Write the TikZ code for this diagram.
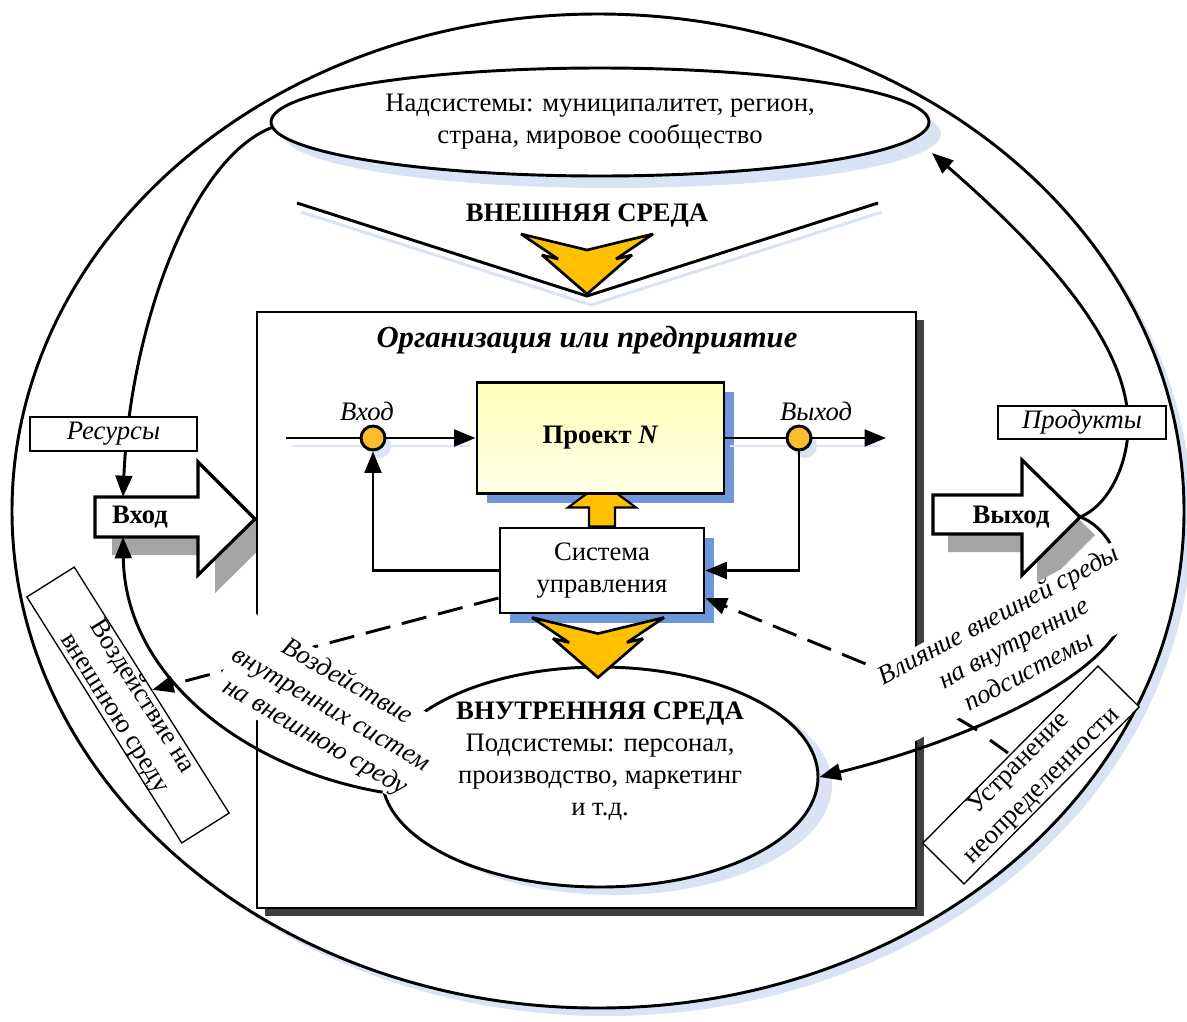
\documentclass[tikz,border=0pt]{standalone}
\usepackage{fontspec}
\setmainfont{Liberation Serif}
\usetikzlibrary{arrows.meta,calc,shapes.geometric}

\definecolor{paleblue}{HTML}{D9E3F3}
\definecolor{boxblue}{HTML}{6E96D9}
\definecolor{amber}{HTML}{FFC000}
\definecolor{dotamber}{HTML}{FABD2E}
\definecolor{darkgrey}{HTML}{3F3F3F}
\definecolor{midgrey}{HTML}{A5A5A5}
\definecolor{projtop}{HTML}{FFFFB8}
\definecolor{projmid}{HTML}{FFFF66}
\definecolor{projbot}{HTML}{FFFFE8}

\tikzset{
  txt/.style={font=\fontsize{20}{24}\selectfont},
  txti/.style={font=\fontsize{20}{24}\selectfont\itshape},
  txtb/.style={font=\fontsize{20}{24}\selectfont\bfseries},
  txtbi/.style={font=\fontsize{23}{27}\selectfont\bfseries\itshape},
  thickline/.style={line width=2.2pt},
  endtip/.style={-{Triangle[length=16pt,width=12.5pt]}},
  dashline/.style={dash pattern=on 19pt off 9pt},
  labelbox/.style={draw, line width=0.8pt, fill=white, inner sep=0pt},
  chevron/.pic={
    \draw[line width=2pt, fill=amber, miter limit=4]
      (-66,-60) -- (0,-44) -- (66,-60) -- (29,-35) -- (45,-39) -- (0,0)
      -- (-45,-39) -- (-29,-35) -- cycle;
  }
}

\begin{document}
\begin{tikzpicture}[x=0.75pt, y=-0.75pt, line join=miter]
\useasboundingbox (0,0) rectangle (1187,1021);

% external environment
\fill[paleblue] (606,519) ellipse [x radius=586, y radius=497];
\node[ellipse, draw, thickline, fill=white, minimum width=879pt,
      minimum height=745.5pt, inner sep=0pt] (env) at (598,511) {};

% supersystems
\fill[paleblue] (612,134) ellipse [x radius=329, y radius=54];
\node[ellipse, draw, thickline, fill=white, minimum width=493.5pt,
      minimum height=81pt, inner sep=0pt, align=center, txt] (supra) at (600,122)
      {Надсистемы: муниципалитет, регион,\\страна, мировое сообщество};

% funnel of the external environment
\coordinate (vL) at (297,203);
\coordinate (vT) at (587,296);
\coordinate (vR) at (878,203);
\draw[paleblue, thickline] ($(vL)+(4,9)$) -- ($(vT)+(4,9)$) -- ($(vR)+(4,9)$);
\draw[thickline] (vL) -- (vT) -- (vR);
\node[txtb] (extenv) at (587,216) {ВНЕШНЯЯ СРЕДА};
\pic at ($(vT)+(0,-2)$) {chevron};

% input block arrow shadow
\fill[midgrey, shift={(17,18)}] (95,497) -- (198,497) -- (198,462) -- (255,519)
      -- (198,575) -- (198,537) -- (95,537) -- cycle;

% organisation frame
\fill[darkgrey] (265,320) rectangle (924,916);
\node[draw, thickline, fill=white, minimum width=494.25pt, minimum height=447pt,
      inner sep=0pt] (org) at (586.5,610) {};
\node[txtbi] (orgtitle) at (587,340) {Организация или предприятие};

% input block arrow
\draw[line width=2.4pt, fill=white] (95,497) -- (198,497) -- (198,462) -- (255,519)
      -- (198,575) -- (198,537) -- (95,537) -- cycle;
\coordinate (inTop) at (123,497);
\coordinate (inBot) at (123,537);
\node[txtb] (inlbl) at (140,517) {Вход};

% output block arrow
\fill[midgrey, shift={(15,18)}] (933,495) -- (1022,495) -- (1022,460) -- (1080,517)
      -- (1022,575) -- (1022,534) -- (933,534) -- cycle;
\draw[line width=2.4pt, fill=white] (933,495) -- (1022,495) -- (1022,460) -- (1080,517)
      -- (1022,575) -- (1022,534) -- (933,534) -- cycle;
\coordinate (outTip) at (1080,517);
\node[txtb] (outlbl) at (1011,517) {Выход};

% control system and project
\fill[boxblue] (510,538) rectangle (714,623);
\node[draw, thickline, fill=white, minimum width=153pt, minimum height=63.75pt,
      inner sep=0pt, align=center, txt] (ctrl) at (602,570.5) {Система\\управления};
\fill[boxblue] (487,392) rectangle (734,503);
\draw[line width=1.6pt, fill=amber, shift={(ctrl.north)}]
      (-13,0) -- (-13,-19) -- (-34,-19) -- (-15,-33) -- (15,-33) -- (34,-19)
      -- (13,-19) -- (13,0) -- cycle;
\node[draw, thickline, top color=projtop, middle color=projmid, bottom color=projbot,
      minimum width=185.25pt, minimum height=83.25pt, inner sep=0pt, txtb]
      (proj) at (600.5,438) {Проект \textit{N}};

% flow through the project
\coordinate (flowIn) at (286,438);
\coordinate (flowOut) at (886,438);
\draw[paleblue, thickline] (292,446) -- (470,446);
\draw[paleblue, thickline] (730,446) -- (880,446);
\fill[paleblue] (379,446) circle [radius=12];
\fill[paleblue] (805,446) circle [radius=12];
\node[circle, draw, thickline, fill=dotamber, minimum size=18pt, inner sep=0pt]
      (inpin) at (373,438) {};
\node[circle, draw, thickline, fill=dotamber, minimum size=18pt, inner sep=0pt]
      (outpin) at (799,438) {};
\node[txti] (inname) at (367,411) {Вход};
\node[txti] (outname) at (816,411) {Выход};
\draw[thickline] (flowIn) -- (inpin);
\draw[thickline, endtip] (inpin) -- (inpin -| proj.west);
\draw[thickline] (proj.east |- outpin) -- (outpin);
\draw[thickline, endtip] (outpin) -- (flowOut);
\draw[thickline, endtip] (ctrl.west) -| (inpin.south);
\draw[thickline, endtip] (outpin.south) |- (ctrl.east);

% internal environment
\fill[paleblue] (614,785) ellipse [x radius=218, y radius=110];
\node[ellipse, draw, thickline, fill=white, minimum width=327pt, minimum height=165pt,
      inner sep=0pt] (inner) at (600,777) {};
\node[align=center, txt] (innertext) at (600,761)
      {\textbf{ВНУТРЕННЯЯ СРЕДА}\\Подсистемы: персонал,\\производство, маркетинг\\и т.д.};
\pic at ($(inner.north)+(-2,12)$) {chevron};

% side boxes
\node[labelbox, line width=1pt, rotate=-57.8, minimum width=218pt, minimum height=41pt,
      align=center, txt] (vozd) at (128,705) {Воздействие на\\внешнюю среду};
\node[labelbox, line width=1pt, rotate=45.3, minimum width=186.75pt, minimum height=43.5pt,
      align=center, txt] (uncert) at (1031,775) {Устранение\\неопределенности};

% mutual influences
\coordinate (dashR) at (900,678);
\coordinate (prodTip) at (932,153);
\draw[thickline, dashline, endtip] ($(ctrl.west)+(0,27.5)$) -- (vozd.north);
\draw[thickline, dashline, endtip] (dashR) -- ($(ctrl.east)+(0,27.5)$);
\draw[thickline, endtip] (supra.181) .. controls (190,160) and (130,330) .. (inTop);
\draw[thickline, endtip] (outTip) .. controls (1110,505) and (1130,460) .. (1128,420)
      .. controls (1125,330) and (1020,230) .. (prodTip);
\draw[thickline, endtip] (outTip) .. controls (1118,530) and (1140,600) .. (1117,632)
      .. controls (1080,690) and (950,745) .. (inner.east);
\draw[thickline] (957,718) -- (977,730);
\draw[thickline] (990,740) -- (1008,753);

% captions
\node[fill=white, rotate=-30, align=center, inner sep=1pt, txti] (impact) at (331,710)
      {Воздействие\\внутренних систем\\на внешнюю среду};
\node[fill=white, rotate=28, align=center, inner sep=0pt, txti] (influence) at (1013,642)
      {Влияние внешней среды\\на внутренние\\подсистемы};
\node[labelbox, minimum width=125.25pt, minimum height=25.5pt, txti] (res) at (113.5,434)
      {Ресурсы};
\node[labelbox, minimum width=126pt, minimum height=24.75pt, txti] (prod) at (1082,422.5)
      {Продукты};

\draw[thickline, endtip] (inner.184) .. controls (250,770) and (125,680) .. (inBot);
\end{tikzpicture}
\end{document}
